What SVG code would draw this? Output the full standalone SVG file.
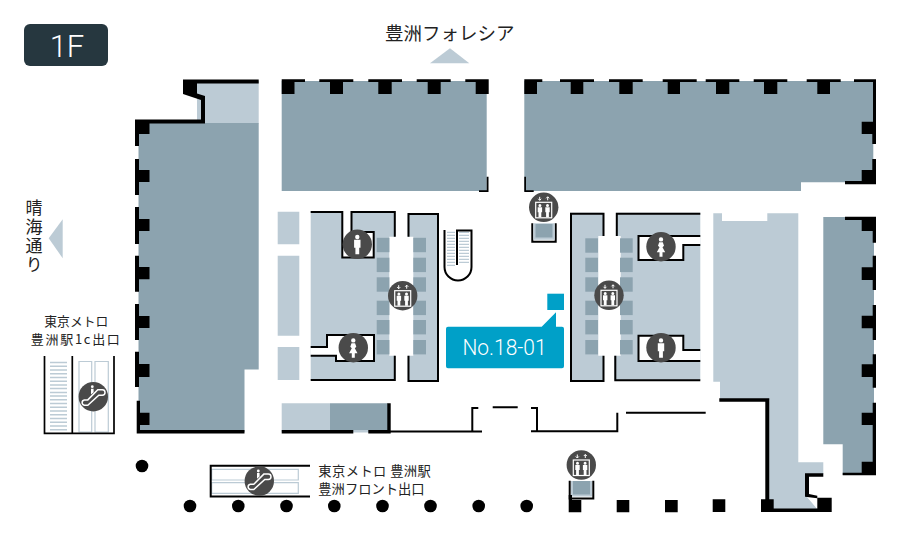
<svg xmlns="http://www.w3.org/2000/svg" width="900" height="536" viewBox="0 0 900 536">
<style>
.d{fill:#8ca3af}
.l{fill:#bccbd5}
.w{fill:#fff}
.k{fill:#000}
.t{stroke:#000;stroke-width:2;fill:none}
.h{stroke:#000;stroke-width:3.4;fill:none}
.e{stroke:#bccbd5;stroke-width:1.2;fill:#fff}
.j{font-family:"Noto Sans CJK JP","Liberation Sans",sans-serif;fill:#222;font-weight:400}
.n{font-family:Roboto,"Liberation Sans",sans-serif;fill:#fff;font-weight:300}
</style>
<defs>
<path id="tile" d="M0 0h12.7v14.4H0z" fill="#8ca3af"/>
<g id="elev">
<circle r="14.7" fill="#4a4a4a"/>
<rect x="-8" y="-5" width="16" height="15.500" fill="none" stroke="#fff" stroke-width="1.200"/>
<path d="M-3.800 -3.300a1.500 1.500 0 1 1 0 3a1.500 1.500 0 1 1 0-3zM-6 0h4.400v5h-.8v5h-2.800v-5h-.8zM3.800 -3.300a1.500 1.500 0 1 1 0 3a1.500 1.500 0 1 1 0-3zM1.600 0h4.400v5h-.8v5h-2.800v-5h-.8z" fill="#fff"/>
<path d="M-4 -10.500v3.500M-5.500 -8.500l1.500 1.500L-2.500 -8.500M4 -7v-3.500M2.500 -9l1.500-1.500L5.500 -9" fill="none" stroke="#fff" stroke-width="1"/>
</g>
<g id="male">
<circle r="14.7" fill="#4a4a4a"/>
<path d="M0 -9.500a2.200 2.200 0 1 1 0 4.400a2.200 2.200 0 1 1 0-4.400zM-3.200 -4.500h6.400v8h-1.300v6.500h-3.800V3.500H-3.200z" fill="#fff"/>
</g>
<g id="female">
<circle r="14.7" fill="#4a4a4a"/>
<path d="M0 -9.500a2.200 2.200 0 1 1 0 4.400a2.200 2.200 0 1 1 0-4.400zM-1.800 -4.500h3.600l1.200 3.500L1.500 .5 4.200 5.500H1.500v4.500h-3V5.500H-4.200l2.700-5-1.500-1.500z" fill="#fff"/>
</g>
<g id="esc">
<circle r="14.700" fill="#4a4a4a"/>
<path d="M-9 8.500h3.500L5.500 -1.500h3.500a2.700 2.700 0 0 0 0-5.400H4.500L-5.500 3.200h-3.500a2.700 2.700 0 0 0 0 5.300z" fill="none" stroke="#fff" stroke-width="1.500"/>
<circle cx="-1" cy="-10" r="1.400" fill="#fff"/>
<path d="M-2.300 -8h2.600v3.500L-2.300 -2.200z" fill="#fff"/>
</g>
</defs>
<rect width="900" height="536" fill="#fff"/>

<g id="badge"><rect x="24" y="24" width="84" height="42" rx="6" fill="#26373f"/><text x="67" y="57" text-anchor="middle" class="n" font-size="31">1F</text></g>

<g id="shops">
<path class="l" d="M197 81H258.700V123.500H197z"/>
<path class="d" d="M138.500 123H258.700V369.500H244.500V432H138.500z"/>
<path class="d" d="M281.700 81H486.700V191H281.700z"/>
<path class="d" d="M524.300 81H873.300V182.300H801V191H524.300z"/>
<path class="d" d="M823.300 217H874V475H842.700V444.300H823.300z"/>
<path class="l" d="M713.300 213.300H722V221H767.300V213.300H798.300V462.300H823.300V474H807V497L818 510H769.300V400H720V381.700H713.300z"/>
<path class="l" d="M277.700 211.700H299.300V244.300H277.700zM277.700 255.700H299.300V335.700H277.700zM277.700 347H299.300V380H277.700z"/>
<path class="l" d="M281.700 403.300H330V432H281.700z"/>
<path class="d" d="M330 403.300H388V432H330z"/>
<path class="l" d="M353 430H369V432.500H353z"/>
<path class="l" d="M310.700 211H395V236.700H389.300V355.700H395V380H310.700z"/>
<path class="l" d="M407.700 213.300H438.300V381.700H407.700V355.700H413.300V236.700H407.700z"/>
<path class="l" d="M570 212.700H603.300V236H598.300V355.700H603.300V381.700H570z"/>
<path class="l" d="M616.300 212.700H700.300V380.300H614.300V355.700H620.700V236H616.300z"/>
<path class="w" d="M343 211H351V231H374V258H343zM326.700 334H374V361H336V355.700H310.700V346.700H326.700zM638 236H700.300V245H683.300V260H638zM638 335.700H683.300V350H700.300V361H638z"/>
</g>

<g id="tiles">
<use href="#tile" x="376.700" y="237.800"/><use href="#tile" x="376.700" y="257.700"/><use href="#tile" x="376.700" y="277.300"/><use href="#tile" x="376.700" y="300.700"/><use href="#tile" x="376.700" y="320"/><use href="#tile" x="376.700" y="340"/>
<use href="#tile" x="413.300" y="237.800"/><use href="#tile" x="413.300" y="257.700"/><use href="#tile" x="413.300" y="277.300"/><use href="#tile" x="413.300" y="300.700"/><use href="#tile" x="413.300" y="320"/><use href="#tile" x="413.300" y="340"/>
<use href="#tile" x="585.300" y="238.300"/><use href="#tile" x="585.300" y="257.700"/><use href="#tile" x="585.300" y="277.300"/><use href="#tile" x="585.300" y="300.700"/><use href="#tile" x="585.300" y="320"/><use href="#tile" x="585.300" y="340"/>
<use href="#tile" x="620" y="238.300"/><use href="#tile" x="620" y="257.700"/><use href="#tile" x="620" y="277.300"/><use href="#tile" x="620" y="300.700"/><use href="#tile" x="620" y="320"/><use href="#tile" x="620" y="340"/>
</g>

<g id="walls">
<path class="k" d="M183 79.500H258.700V83.500H197V93.500L205 96V123.500H149.500V134H139V146H135V119.500H201V100L183 94z"/>
<path class="k" d="M135 159h4v11h10.500v12H139v13h-4zM135 207h4v12h10.500v12H139v13h-4zM135 255.700h4v11.300h10.500v12.300H139v12.400h-4zM135 304h4v12h10.500v12H139v12h-4zM135 351.700h4v12.300h10.500v13H139v10h-4zM136.700 400.700h3.300v12h9.500v12.300H140v5H244.500v3.500H136.700z"/>
<path class="k" d="M281.700 79.300H305V82H294.500V94H281.700zM319.300 79.300H353.300V82H343V94H330V82H319.300zM368.300 79.300H402V82H391.700V94H378.300V82H368.300zM416.700 79.300H450.700V82H440.700V94H427.700V82H416.700zM465.300 79.300H488.700V94H475.700V82H465.300z"/>
<path class="k" d="M486.700 176.700H488.500V192H479V190.300H486.700zM524.300 176.700H526V190.300H533.700V192H524.300z"/>
<path class="k" d="M524.300 79.300H542.300V82H537V94H524.300zM560 79.300H594V82H583.300V94H570.700V82H560zM609 79.300H642.700V82H632.700V94H619.300V82H609zM662.700 79.300H696.700V82H680V94H667.700V82H662.700zM705.700 79.300H739.300V82H729.300V94H716V82H705.700zM753.700 79.300H787.300V82H777.300V94H764V82H753.700zM806.700 79.300H840.700V82H830V94H817.300V82H806.700z"/>
<path class="k" d="M854 79.300H876V144H872.300V134H861.700V121.700H873V82H854zM872.300 159H876V184.300H845V181H861.700V170H872.300z"/>
<path class="k" d="M845 216.700H876V242.700H872.700V231H861.700V220H845zM872.700 255.700H876V290H872.700V280H861.700V267.300H872.700zM872.700 305H876V340H872.700V328.300H861.700V315.700H872.700zM872.700 354.300H876V387.700H872.700V377H861.700V364.300H872.700zM872.700 402.700H876V475.300H842.700V472.700H861.700V461.700H872.700V425H861.700V412.700H872.700z"/>
<path class="k" d="M719.300 398.300H769.300V499.300H773.700V508.500H817.300V497.700H831.700V512H761V499.300H765.300V401.700H719.300z"/>
<path class="k" d="M805 473.300H823.300V476.700H809V494L817.300 495.800V498.300L805 496.800z"/>
<path class="k" d="M712.700 499.300h12.600V512h-12.600zM568.700 500h12.600v12.300h-12.600zM616.700 500h12.600v12.300h-12.600zM665 500h12.700v12.300H665z"/>
<path class="h" d="M281.700 431.800H353.300M368.300 431.800H389V403.300"/>
<path class="t" d="M389 431.400H482M472.300 431V408H478.300M492.700 407.300H517.700M531 408H537V431.300H617.300V412.700M531 431.300H537M626 412.700H705.700"/>
<path class="t" d="M310.700 212H342.300V257.500H373.700V232H351.500V212H373.700H394.800V236.700M310.700 347H327V335H374V361H336V355.700H310.700M310.700 380H394.800V355.700"/>
<path class="t" d="M408.500 236.700V214H438V381H408.500V355.700"/>
<path class="t" d="M603.500 236V213.700H571V381H603.500V355.700M616.800 236V213.700H700.300M700.300 236H638.500V260H683.300V245H700.300M700.300 350H683.300V335.700H638.500V361H700.300M700.300 380.300H615.300V355.700"/>
<path class="t" d="M532.300 223.300V241.700H555.700V223.300M569.700 480.700V498.500H593.300V480.700"/>
</g>

<g id="elevator-cars">
<path class="l" d="M533.300 223.300H554.700V239.700H533.300zM571 481H592V496.500H571z"/>
<path class="d" d="M535.500 224H552.500V237.500H535.500zM573 481H590V494.500H573z"/>
<path class="k" d="M568.700 495H572V500H568.700z"/>
</g>

<g id="stairs">
<path d="M447 232.300h8M447 235.300h8M447 238.300h8M447 241.300h8M447 244.300h8M447 247.300h8M447 250.300h8M447 253.300h8M447 256.300h8M447 259.300h8M447 262.300h8M447 265.300h8M459 232.300h10M459 235.300h10M459 238.300h10M459 241.300h10M459 244.300h10M459 247.300h10M459 250.300h10M459 253.300h10M459 256.300h10M459 259.300h10M459 262.300h10" stroke="#bccbd5" stroke-width="1.200" fill="none"/>
<path d="M444.500 230V267A13.500 13.500 0 0 0 471.500 267V230.500H457V265" stroke="#000" stroke-width="2" fill="none"/>
</g>

<g id="esc-left">
<path class="e" d="M79 361.500H91.700V432H79zM95 361.500H108.300V432H95z"/>
<path d="M50 362.500h17M50 366.200h17M50 370h17M50 373.700h17M50 377.400h17M50 381.200h17M50 384.900h17M50 388.600h17M50 392.400h17M50 396.100h17M50 399.800h17M50 403.600h17M50 407.300h17M50 411h17M50 414.800h17M50 418.500h17M50 422.200h17M50 426h17M50 429.700h17" stroke="#bccbd5" stroke-width="1.500" fill="none"/>
<path d="M44.500 356V433.300H114V356M72.300 356V433" stroke="#000" stroke-width="1.700" fill="none"/>
<use href="#esc" x="93.300" y="396.700"/>
</g>
<g id="esc-bottom">
<path class="e" d="M211.700 469.300H298.300V480H211.700zM211.700 482.700H298.300V493.300H211.700z"/>
<path d="M310 465.800H210.700V496.600H310" stroke="#000" stroke-width="2" fill="none"/>
<use href="#esc" x="259.300" y="481"/>
</g>

<g id="icons">
<use href="#elev" x="402.700" y="295.700"/>
<use href="#elev" x="609" y="295.300"/>
<use href="#elev" x="543.700" y="207.300"/>
<use href="#elev" x="581.300" y="465"/>
<use href="#male" x="357.300" y="244.300"/>
<use href="#female" x="353.300" y="347.700"/>
<use href="#female" x="661" y="246.700"/>
<use href="#male" x="661" y="347.700"/>
</g>

<g id="columns" class="k">
<circle cx="142" cy="466" r="6.300"/>
<circle cx="190" cy="506" r="6.300"/><circle cx="238.300" cy="506" r="6.300"/><circle cx="286.500" cy="506" r="6.300"/><circle cx="334.300" cy="506" r="6.300"/><circle cx="382.500" cy="506" r="6.300"/><circle cx="430.500" cy="506" r="6.300"/><circle cx="478.700" cy="506" r="6.300"/><circle cx="526.700" cy="506" r="6.300"/>
</g>

<g id="marker">
<rect x="547.300" y="293.700" width="16.700" height="16.300" fill="#00a0c8"/>
<path d="M448 326.700H541.700L556 312.300V326.700H562A2 2 0 0 1 564 328.700V366.300A2 2 0 0 1 562 368.300H448A2 2 0 0 1 446 366.300V328.700A2 2 0 0 1 448 326.700z" fill="#00a0c8"/>
<text x="504.500" y="355" text-anchor="middle" class="n" font-size="22" textLength="84" lengthAdjust="spacingAndGlyphs">No.18-01</text>
</g>

<g id="directions">
<path class="l" d="M430 63.300H469.300L450 48.300z"/>
<path class="l" d="M48.700 238.300L62.700 219.300V258.300z"/>
<text x="449.700" y="39.500" text-anchor="middle" class="j" font-size="18.500">豊洲フォレシア</text>
<text class="j" font-size="17" x="34" y="199" letter-spacing="2" style="writing-mode:vertical-rl">晴海通り</text>
<text class="j" font-size="12.800" text-anchor="middle" x="76.300" y="326.300">東京メトロ</text>
<text class="j" font-size="13" text-anchor="middle" x="76.200" y="344" letter-spacing="1.700">豊洲駅1c出口</text>
<text class="j" font-size="13.300" x="318.300" y="475.800" letter-spacing=".4">東京メトロ 豊洲駅</text>
<text class="j" font-size="13.300" x="318.300" y="493.800">豊洲フロント出口</text>
</g>
</svg>
